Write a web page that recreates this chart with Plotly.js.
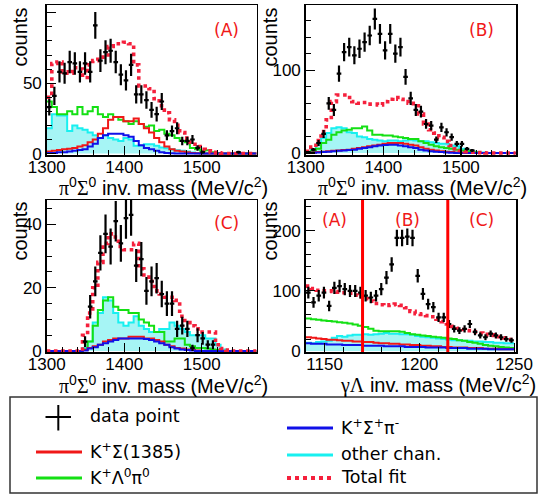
<!DOCTYPE html>
<html><head><meta charset="utf-8">
<script src="https://cdn.plot.ly/plotly-3.0.1.min.js"></script>
<style>html,body{margin:0;padding:0;background:#fff}#chart{width:538px;height:496px}</style>
</head><body><div id="chart"></div>
<script>
const W = 538, H = 496;

// ---- binning ----
const binStartPS = 1300, binWidthPS = 6.6;      // pi0 Sigma0 histograms (A, B, C)
const binStartGL = 1140, binWidthGL = 2.75;     // gamma Lambda histogram
const cutLow = 1170, cutHigh = 1215;

// ---- panel (A) ----
const dataA = [33,41,58,57,65,64,58,64,58,91,66,72,73,65,56,52,63,42,42,38,31,28,37,13,16,18,9,9,10,4,1,null,null,null,null,null,null,1,null,null,null];
const errA  = [6,6.5,7.6,7.5,8,8,7.6,8,7.6,9.5,8.1,8.5,8.5,8,7.5,7.2,7.9,6.5,6.5,6.2,5.6,5.3,6.1,3.6,4,4.2,3,3,3.2,2,1,null,null,null,null,null,null,1,null,null,null];
const totA   = [40,64,65,58,57,61,60,54,63,66,67,70,76,78,78,79,78,63,48,48,46,39,34,29,24,20,15,11,8,5,3,2,1,0.5,0,0,0,0,0,0,0];
const greenA = [37,33,28,28,30,28,33,28,30,33,28,26,28,26,24,23,21,23,21,19,20,16,17,14,13,11,9,8,4,3,2,2.4,1,0.5,0,0,0,0,0,0,0];
const cyanA  = [18,28,27,27,16,20,18,17,15,13,11,13,11,10,9,11,10,5.5,5.5,6.6,6.6,5.5,4.3,3.8,3,2.4,2,1.4,0.7,0.5,0.3,0,0,0,0,0,0,0,0,0,0];
const redA   = [1.5,2,2.5,3,3.5,4,5,6,8,10,14,18,24,26,26,23,23,25,21,18,15,11,8,5,3,2,1.5,1,0.5,0.3,0,0,0,0,0,0,0,0,0,0,0];
const blueA  = [0.5,0.5,1,1,1.5,2,2.5,3,5,7,11,13,14,14,14,13,12,9,6,4,3,2,1,0.5,0.3,0,0,0,0,0,0,0,0,0,0,0,0,0,0,0,0];

// ---- panel (B) ----
const dataB = [1,4,12,23,60,52,96,122,128,118,126,134,142,162,144,124,144,120,128,92,66,52,50,35,33,16,31,25,19,11,11,5,3,null,null,null,null,null,null,null,null];
const errB  = [1,2,3.5,4.8,7.7,7.2,9.8,11,11.3,10.9,11.2,11.6,11.9,12.7,12,11.1,12,11,11.3,9.6,8.1,7.2,7.1,5.9,5.7,4,5.6,5,4.4,3.3,3.3,2.2,1.7,null,null,null,null,null,null,null,null];
const totB   = [2,7,15,26,40,62,70,70,67,62,60,61,59,59,58,62,65,67,65,62,60,57,47,35,28,24,19,14,9,5,3,1.5,1,0.5,0.3,0,0,0,0,0,0];
const greenB = [0.5,2,5,12,16,22,25,27,28,30,30,32,27,22,22,21,21,20,19,18,17,17,14,12,10,8,7,6,5,4,3,2,1,0.5,0,0,0,0,0,0,0];
const cyanB  = [1,4,10,18,24,30,31,30,25,24,20,19,17,16,15,14,15,15,14,15,16,15,14,14,13,12,11,11,9,8,5,3,2,1,0.5,0,0,0,0,0,0];
const redB   = [0,0.5,1,1.5,2,2.5,3,3.5,4,5,6,7,8,9,10,11,12,12,12,11,10,9,7,5,4,3,2,1.5,1,0.5,0.3,0,0,0,0,0,0,0,0,0,0];
const blueB  = [0,0.3,0.5,1,1.5,2,2.5,3,3.5,4,5,6,7,8,9,9.5,10,10,9,8,7,6,4,3,2,1.5,1,0.5,0.3,0,0,0,0,0,0,0,0,0,0,0,0];

// ---- panel (C) ----
const dataC = [null,null,null,null,null,null,null,3,14,22,31,37,33,41,34,42,43,27,29,19,22,23,18,15,15,7,8,7,1,5,4,2,2,null,null,null,null,null,null,null,null];
const errC  = [null,null,null,null,null,null,null,1.7,3.7,4.7,5.6,6.1,5.7,6.4,5.8,6.5,6.6,5.2,5.4,4.4,4.7,4.8,4.2,3.9,3.9,2.6,2.8,2.6,1,2.2,2,1.4,1.4,null,null,null,null,null,null,null,null];
const totC   = [0,0,0,0,0,0,0,5,12,20,28,34,37,36,33,32,32,34,26,24,22,19,18,17,17,16,11,9,8,7,6,6,6,2,0.8,0.3,0,0,0,0,0];
const greenC = [0,0,0,0,0,0,0,0.5,3,8,13,16,17,14,13,13,12,12,10,9,8,6,6,3,3,4,4,2,1.5,1,1,0.8,0.5,0.3,0,0,0,0,0,0,0];
const cyanC  = [0,0,0,0,0,0,0,1,3,9,12,17,16,12,9,8,9,11,8,7,6,6,7,7,9,8,7,6,5,5,5,4,4,2,0.5,0,0,0,0,0,0];
const redC   = [0,0,0,0,0,0,0,0.3,1,1.5,2,3,3.5,4,4,4,4.5,4.5,4.5,4,4,3.5,3,2,1.5,1,0.8,0.5,0.3,0.2,0,0,0,0,0,0,0,0,0,0,0];
const blueC  = [0,0,0,0,0,0,0,0.2,0.8,1.2,2,2.5,3,3.5,4,4,4,4,4,3.8,3.5,3,2.5,2,1.2,0.8,0.5,0.3,0.2,0,0,0,0,0,0,0,0,0,0,0,0];

// ---- gamma Lambda panel ----
const dataD = [97,81,92,97,75,105,108,103,100,100,97,92,89,92,103,122,144,188,188,190,188,125,95,78,73,56,56,45,37,34,37,45,32,26,23,29,26,23,20,18];
const errD  = [9.8,9,9.6,9.8,8.7,10.2,10.4,10.1,10,10,9.8,9.6,9.4,9.6,10.1,11,12,13.7,13.7,13.8,13.7,11.2,9.7,8.8,8.5,7.5,7.5,6.7,6.1,5.8,6.1,6.7,5.7,5.1,4.8,5.4,5.1,4.8,4.5,4.2];
const totD   = [108,104,101,100,100,99,98,97,96,93,90,87,83,79,77,76,77,78,76,72,66,62,61,59,57,53,49,45,41,38,36,34,32,30,28,27,26,24,22,19];
const greenD = [54,53,52,51,50,49,48,47,46,44,42,40,37,34,33,33,33,33,32,30,28,27,26,25,24,23,22,21,20,18,17,15,14,12,10,9,8,7,6,5];
const cyanD  = [14,13,15,16,17,22,25,24,26,27,27,28,27,28,29,30,29,29,28,28,27,25,24,23,22,21,20,19,18,18,17,17,16,16,15,15,14,14,13,13];
const redD   = [23,22,21,20,19,19,18,17,17,16,16,15,15,14,13,13,12,12,11,11,10,10,9,9,8,8,7,7,6,6,6,5,5,5,4,4,4,3,3,3];
const blueD  = [13,12,12,12,11,11,11,10,10,10,10,9,9,9,9,8,8,8,8,7,7,7,7,6,6,6,6,5,5,5,5,4,4,4,4,3,3,3,3,3];

// ---- text ----
const legendLabels = ['data point','K<sup>+</sup>Σ(1385)','K<sup>+</sup>Λ<sup>0</sup>π<sup>0</sup>','K<sup>+</sup>Σ<sup>+</sup>π<sup>-</sup>','other chan.','Total fit'];
const panelTags = ['(A)','(B)','(C)'];

// ---- styles ----
const C_GREEN = '#14e014', C_CYAN = '#18f0f0', C_FILL = 'rgb(166,245,245)', C_RED = '#f01818', C_BLUE = '#1010e8', C_TOT = '#f5203c';
const SERIF = "'Liberation Serif'";

function hist(xa, ya, start, w, vals, color, extra) {
  const x = [], y = [];
  for (let i = 0; i < vals.length; i++) { x.push(start + i * w); y.push(vals[i]); }
  x.push(start + vals.length * w); y.push(vals[vals.length - 1]);
  return Object.assign({type:'scatter', mode:'lines', x:x, y:y, xaxis:xa, yaxis:ya,
    line:{shape:'hv', color:color, width:2}, hoverinfo:'skip', showlegend:false}, extra || {});
}
function points(xa, ya, start, w, vals, errs) {
  const x = [], y = [], e = [];
  vals.forEach((v, i) => { if (v !== null) { x.push(start + (i + 0.5) * w); y.push(v); e.push(errs[i]); } });
  return {type:'scatter', mode:'markers', x:x, y:y, xaxis:xa, yaxis:ya, showlegend:false, hoverinfo:'skip',
    marker:{size:2, color:'black'},
    error_y:{type:'data', array:e, visible:true, color:'black', thickness:2.2, width:0},
    error_x:{type:'constant', value:w * 0.45, visible:true, color:'black', thickness:2.2, width:0}};
}
function panel(xa, ya, start, w, d, e, tot, green, cyan, red, blue) {
  return [
    hist(xa, ya, start, w, cyan, C_CYAN, {fill:'tozeroy', fillcolor:C_FILL}),
    hist(xa, ya, start, w, green, C_GREEN),
    hist(xa, ya, start, w, red, C_RED),
    hist(xa, ya, start, w, blue, C_BLUE),
    hist(xa, ya, start, w, tot, C_TOT, {line:{shape:'hv', color:C_TOT, width:3.6, dash:'dot'}}),
    points(xa, ya, start, w, d, e)
  ];
}

const traces = [].concat(
  panel('x', 'y', binStartPS, binWidthPS, dataA, errA, totA, greenA, cyanA, redA, blueA),
  panel('x2','y2', binStartPS, binWidthPS, dataB, errB, totB, greenB, cyanB, redB, blueB),
  panel('x3','y3', binStartPS, binWidthPS, dataC, errC, totC, greenC, cyanC, redC, blueC),
  panel('x4','y4', binStartGL, binWidthGL, dataD, errD, totD, greenD, cyanD, redD, blueD)
);

const px = v => v / W, py = v => 1 - v / H;
const tickFont = {family:'Liberation Sans, Arial, sans-serif', size:17, color:'black'};

function xAxis(l, r, range, anchor, tick0, dtick, mdtick) {
  return {domain:[px(l), px(r)], range:range, anchor:anchor, showgrid:false, zeroline:false,
    showline:true, linecolor:'black', linewidth:1.5, mirror:true,
    ticks:'inside', ticklen:9, tickwidth:1.2, tickcolor:'black', tickmode:'linear', tick0:tick0, dtick:dtick,
    ticklabelstandoff:-4,
    minor:{ticks:'inside', ticklen:5, tickcolor:'black', tickwidth:1, tick0:tick0, dtick:mdtick},
    tickfont:tickFont, automargin:false, fixedrange:true};
}
function yAxis(top, bot, range, anchor, vals, texts, mdtick) {
  return {domain:[py(bot), py(top)], range:range, anchor:anchor, showgrid:false, zeroline:false,
    showline:true, linecolor:'black', linewidth:1.5, mirror:true,
    ticks:'inside', ticklen:9, tickwidth:1.2, tickcolor:'black', tickmode:'array', tickvals:vals, ticktext:texts,
    minor:{ticks:'inside', ticklen:5, tickcolor:'black', tickwidth:1, tick0:0, dtick:mdtick},
    tickfont:tickFont, automargin:false, fixedrange:true};
}

const annotations = [];
function txt(x, y, text, opts) {
  annotations.push(Object.assign({xref:'paper', yref:'paper', x:px(x), y:py(y), text:text, showarrow:false,
    xanchor:'left', yanchor:'middle', borderpad:0,
    font:{family:'Liberation Sans, Arial, sans-serif', size:20, color:'black'}}, opts || {}));
}
const psTitle = '<span style="font-family:' + SERIF + '">π</span><sup>0</sup><span style="font-family:' + SERIF + '">Σ</span><sup>0</sup> inv. mass (MeV/c<sup>2</sup>)';
const glTitle = '<span style="font-family:' + SERIF + '">γΛ</span> inv. mass (MeV/c<sup>2</sup>)';
txt(269, 186, psTitle, {xanchor:'right'});
txt(528, 186, psTitle, {xanchor:'right'});
txt(269, 384, psTitle, {xanchor:'right'});
txt(537, 384, glTitle, {xanchor:'right'});
[[19, 7], [269, 7], [19, 201], [269, 201]].forEach(p => txt(p[0], p[1], 'counts', {textangle:-90, xanchor:'center', yanchor:'top'}));

const tagFont = {family:'DejaVu Sans, sans-serif', size:17, color:'#f01818'};
txt(226, 30, panelTags[0], {xanchor:'center', font:tagFont});
txt(481, 30, panelTags[1], {xanchor:'center', font:tagFont});
txt(226, 223, panelTags[2], {xanchor:'center', font:tagFont});
txt(334, 220, panelTags[0], {xanchor:'center', font:tagFont});
txt(407, 220, panelTags[1], {xanchor:'center', font:tagFont});
txt(481, 220, panelTags[2], {xanchor:'center', font:tagFont});

// legend texts
const legFont = {family:'DejaVu Sans, sans-serif', size:17.5, color:'black'};
txt(89, 416, legendLabels[0], {font:legFont});
txt(89, 451, legendLabels[1], {font:legFont});
txt(89, 477, legendLabels[2], {font:legFont});
txt(340, 427, legendLabels[3], {font:legFont});
txt(340, 454, legendLabels[4], {font:legFont});
txt(340, 477, legendLabels[5], {font:legFont});

const shapes = [];
function seg(x0, y0, x1, y1, color, width, dash) {
  shapes.push({type:'line', xref:'paper', yref:'paper', x0:px(x0), y0:py(y0), x1:px(x1), y1:py(y1),
    line:{color:color, width:width, dash:dash || 'solid'}});
}
// cut lines in gamma Lambda panel
[cutLow, cutHigh].forEach(c => shapes.push({type:'line', xref:'x4', yref:'paper', x0:c, x1:c, y0:py(352), y1:py(200),
  line:{color:'#ff0000', width:3}}));
// legend box and keys
shapes.push({type:'rect', xref:'paper', yref:'paper', x0:px(10), y0:py(493), x1:px(537), y1:py(397), line:{color:'#333', width:1.5}});
seg(45.5, 417, 71, 417, 'black', 2);
seg(58.3, 405, 58.3, 430.5, 'black', 2);
seg(36, 452, 82, 452, C_RED, 3);
seg(36, 478, 82, 478, C_GREEN, 3);
seg(287, 428, 333, 428, C_BLUE, 3);
seg(287, 455, 333, 455, C_CYAN, 3);
seg(287, 478, 333, 478, C_TOT, 4, 'dot');

const layout = {
  width:W, height:H, margin:{l:0, r:0, t:0, b:0}, paper_bgcolor:'white', plot_bgcolor:'white', showlegend:false,
  xaxis:  xAxis(46.7, 256.7, [1300, 1571], 'y',  1300, 100, 20),
  xaxis2: xAxis(305.7, 516,  [1300, 1571], 'y2', 1300, 100, 20),
  xaxis3: xAxis(46.7, 256.7, [1300, 1571], 'y3', 1300, 100, 20),
  xaxis4: xAxis(305.7, 516,  [1140, 1251], 'y4', 1150, 50, 10),
  yaxis:  yAxis(5, 155,   [-1, 105.5], 'x',  [0, 50, 100], ['0', '50', ''], 10),
  yaxis2: yAxis(5, 155,   [-2.5, 178.9], 'x2', [0, 100], ['0', '100'], 20),
  yaxis3: yAxis(200, 352, [-0.3, 47.7], 'x3', [0, 20, 40], ['0', '20', '40'], 5),
  yaxis4: yAxis(200, 352, [-1.5, 251], 'x4', [0, 100, 200], ['0', '100', '200'], 20),
  annotations:annotations, shapes:shapes
};
Plotly.newPlot('chart', traces, layout, {staticPlot:true, displayModeBar:false});
</script></body></html>
